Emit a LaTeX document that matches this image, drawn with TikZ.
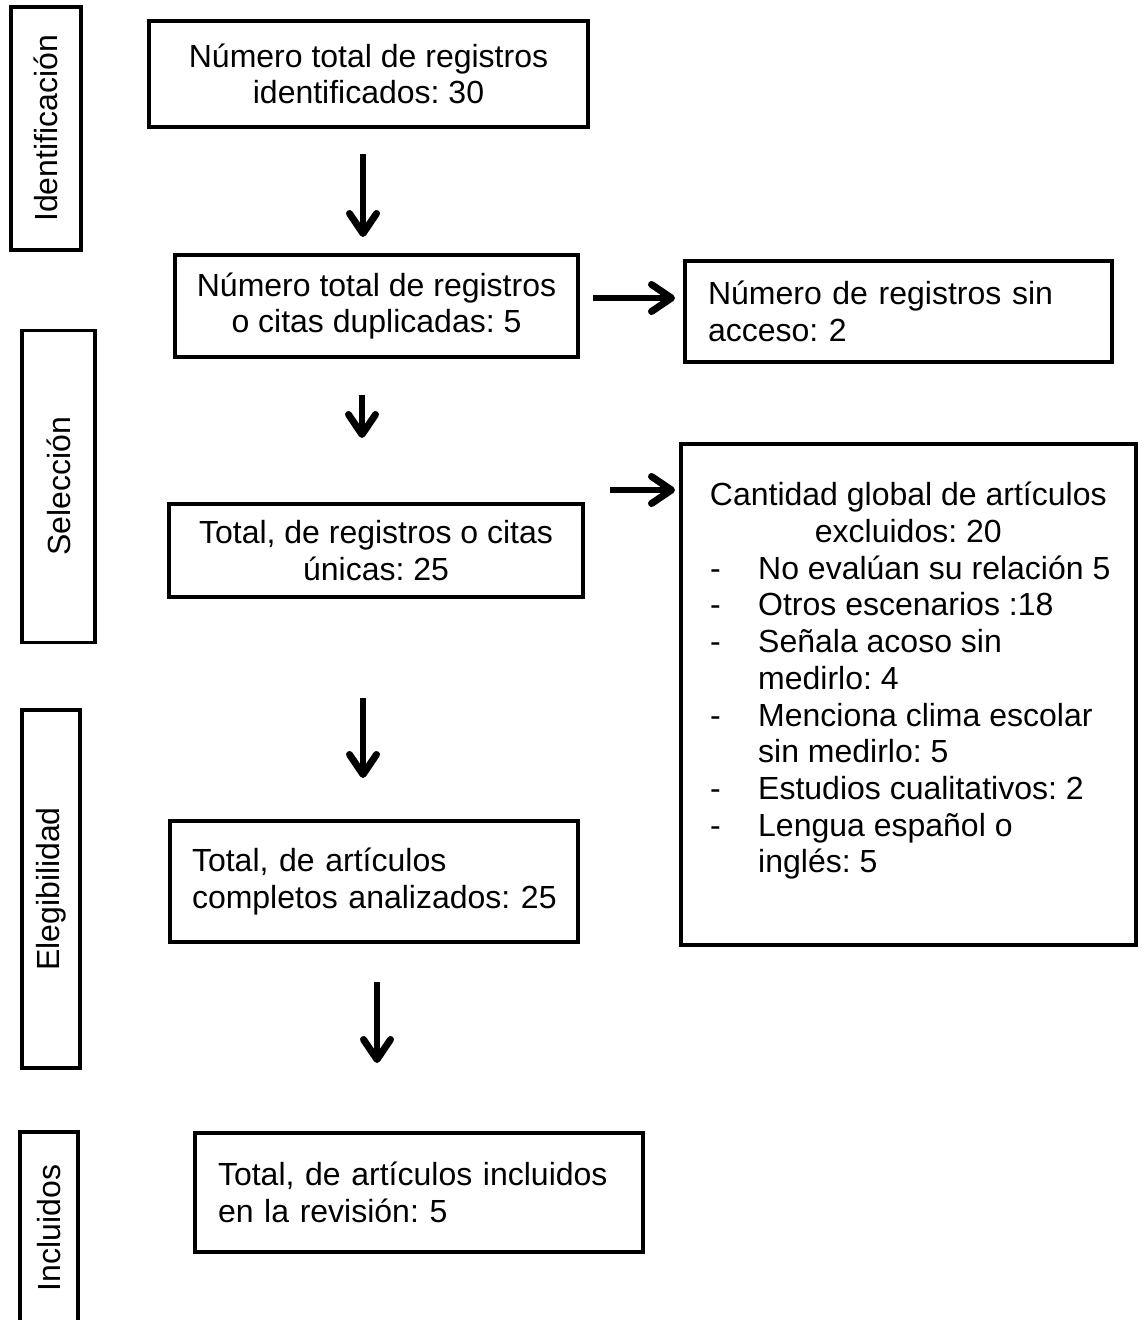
\documentclass[tikz,border=0pt]{standalone}
\usepackage{fontspec}
\setmainfont{Liberation Sans}
\usetikzlibrary{arrows.meta}
\newcommand{\myfs}{\fontsize{32}{36.7}\selectfont}
\frenchspacing
\begin{document}
\begin{tikzpicture}[x=1pt,y=-1pt,
  box/.style={draw,line width=3.5pt,inner sep=0pt,font=\myfs,align=center},
  lbox/.style={draw,line width=3.5pt,inner ysep=0pt,font=\myfs,align=left},
  lab/.style={draw,line width=3.5pt,inner sep=0pt,font=\myfs,rotate=90},
  arr/.style={line width=6pt,-{Straight Barb[length=20pt,width=27pt,line width=7pt,round]}}
]
\useasboundingbox[fill=white] (0,0) rectangle (1141,1320);

% phase labels
\node[lab, minimum width=243, minimum height=70] (lid) at (46,128.5) {Identificación};
\node[lab, minimum width=312, minimum height=73] (lsel) at (58.5,486.5) {Selección};
\node[lab, minimum width=358, minimum height=58] (lel) at (51,889) {Elegibilidad};
\node[font=\myfs, rotate=90, inner sep=0pt] (linc) at (49,1228) {Incluidos};
\draw[line width=3.5pt] (20,1330) -- (20,1132) -- (78,1132) -- (78,1330);

% main boxes
\node[box, minimum width=439, minimum height=106] (b1) at (368.5,74)
  {Número total de registros\\identificados: 30};
\node[box, minimum width=403, minimum height=102] (b2) at (376.5,306)
  {Número total de registros\\o citas duplicadas: 5};
\node[lbox, minimum width=427, minimum height=101, inner xsep=23pt, text width=381pt] (b3) at (898.5,311.5)
  {\mbox{Número de registros sin}\\acceso: 2};
\node[box, minimum width=414, minimum height=93] (b4) at (376,550.5)
  {Total, de registros o citas\\únicas: 25};
\node[draw, line width=3.5pt, minimum width=455, minimum height=501, inner sep=0pt, anchor=north west] (b5) at (679,442) {};
\node[font=\myfs, inner sep=0pt, anchor=north west] (b5t) at (706,480)
  {\begin{tabular}{@{}p{52pt}@{}l@{}}
   \multicolumn{2}{@{}c@{}}{Cantidad global de artículos}\\
   \multicolumn{2}{@{}c@{}}{excluidos: 20}\\
   \hspace*{4pt}- & No evalúan su relación 5\\
   \hspace*{4pt}- & Otros escenarios :18\\
   \hspace*{4pt}- & Señala acoso sin\\
    & medirlo: 4\\
   \hspace*{4pt}- & Menciona clima escolar\\
    & sin medirlo: 5\\
   \hspace*{4pt}- & Estudios cualitativos: 2\\
   \hspace*{4pt}- & Lengua español o\\
    & inglés: 5
  \end{tabular}};
\node[lbox, minimum width=408, minimum height=121, inner xsep=22pt, text width=364pt] (b6) at (374,881.5)
  {\mbox{Total, de artículos}\\\mbox{completos analizados: 25}};
\node[lbox, minimum width=448, minimum height=119, inner xsep=23pt, text width=402pt] (b7) at (419,1192.5)
  {\mbox{Total, de artículos incluidos}\\\mbox{en la revisión: 5}};

% arrow end points
\coordinate (a1s) at (363,154);  \coordinate (a1e) at (363,237);
\coordinate (a2s) at (362,395);  \coordinate (a2e) at (362,438);
\coordinate (a3s) at (363,698);  \coordinate (a3e) at (363,778);
\coordinate (a4s) at (377,982);  \coordinate (a4e) at (377,1063);
\coordinate (h1s) at (593,298);  \coordinate (h1e) at (675,298);
\coordinate (h2s) at (610,490);  \coordinate (h2e) at (675,490);

\draw[arr] (a1s) -- (a1e);
\draw[arr] (a2s) -- (a2e);
\draw[arr] (a3s) -- (a3e);
\draw[arr] (a4s) -- (a4e);
\draw[arr] (h1s) -- (h1e);
\draw[arr] (h2s) -- (h2e);
\end{tikzpicture}
\end{document}
